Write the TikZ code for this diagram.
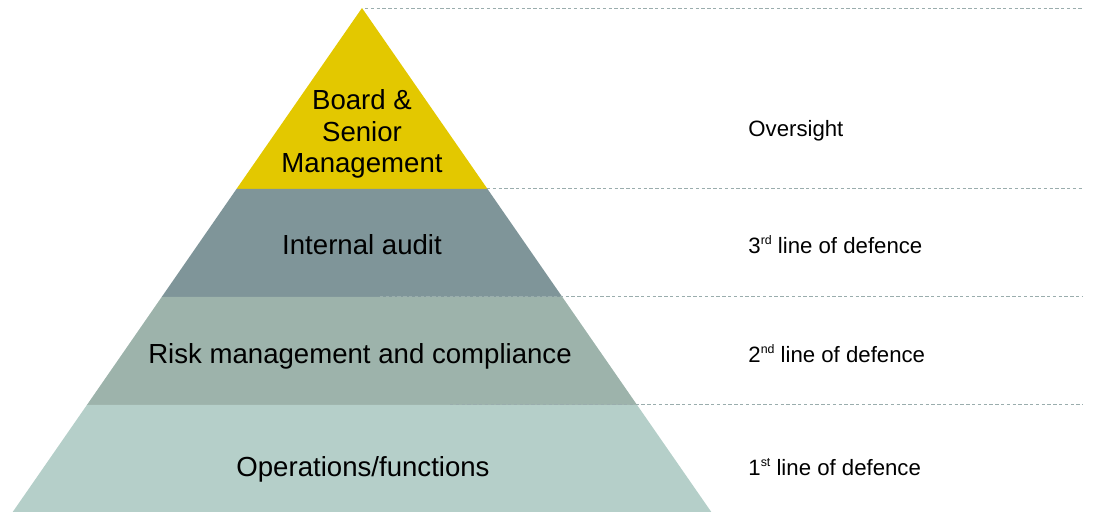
\documentclass[tikz,border=0pt]{standalone}
\usepackage{fontspec}
\setmainfont{Liberation Sans}
\usetikzlibrary{positioning}

\definecolor{boardyellow}{HTML}{E3C800}
\definecolor{auditgray}{HTML}{7F9599}
\definecolor{riskgray}{HTML}{9DB3AB}
\definecolor{opsgray}{HTML}{B5CFC9}
\definecolor{guidegray}{HTML}{9AADAD}
\newcommand{\ordsup}[1]{\raisebox{0.8ex}{\fontsize{6.2}{6.2}\selectfont #1}}

\begin{document}
\begin{tikzpicture}[x=0.5pt,y=0.5pt,
        level/.style={font=\fontsize{13.8}{15.75}\selectfont, align=center},
        defence/.style={font=\fontsize{11.1}{13}\selectfont, anchor=base west, inner sep=0pt},
        guide/.style={draw=guidegray, line width=0.5pt, dash pattern=on 1.7pt off 1.2pt}]
        \useasboundingbox (0,0) rectangle (1094,512);
        % pyramid corners
        \coordinate (apex) at (362,504);
        \coordinate (l1) at (236.5,323); \coordinate (r1) at (487.5,323);
        \coordinate (l2) at (161.7,215); \coordinate (r2) at (562.3,215);
        \coordinate (l3) at (86.9,107);  \coordinate (r3) at (637.1,107);
        \coordinate (l4) at (12.7,0);    \coordinate (r4) at (711.3,0);
        \fill[boardyellow] (apex) -- (r1) -- (l1) -- cycle;
        \fill[auditgray] (l1) -- (r1) -- (r2) -- (l2) -- cycle;
        \fill[riskgray] (l2) -- (r2) -- (r3) -- (l3) -- cycle;
        \fill[opsgray] (l3) -- (r3) -- (r4) -- (l4) -- cycle;
        % dashed guides
        \coordinate (edge) at (1083,0);
        \coordinate (tip) at (365,503);
        \coordinate (cut1) at (487,323);
        \coordinate (cut2) at (380,215);
        \coordinate (cut3) at (450,107);
        \draw[guide] (tip) -- (tip -| edge);
        \draw[guide] (cut1) -- (cut1 -| edge);
        \draw[guide] (cut2) -- (cut2 -| edge);
        \draw[guide] (cut3) -- (cut3 -| edge);
        % levels
        \node[level] (board) at (362,378) {Board \&\\Senior\\Management};
        \node[level] (audit) at (362,267) {Internal audit};
        \node[level] (risk) at (360,156) {Risk management and compliance};
        \node[level] (ops) at (363,43) {Operations/functions};
        % lines of defence
        \node[defence] (oversight) at (748,375) {Oversight};
        \node[defence] (third) at (748,258) {3\ordsup{rd} line of defence};
        \node[defence] (second) at (748,149) {2\ordsup{nd} line of defence};
        \node[defence] (first) at (748,36) {1\ordsup{st} line of defence};
    \end{tikzpicture}
\end{document}
